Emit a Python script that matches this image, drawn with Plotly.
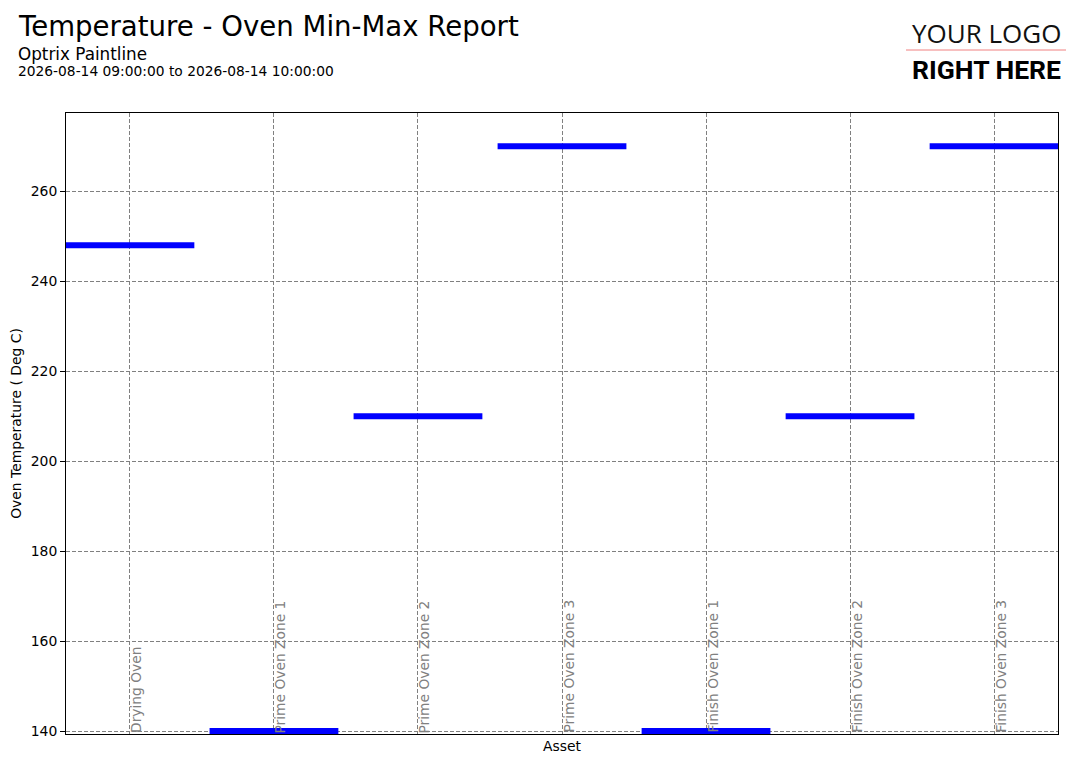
import plotly.graph_objects as go

# Oven min/max temperatures (Deg C) for the reporting window
assets = ["Drying Oven", "Prime Oven Zone 1", "Prime Oven Zone 2", "Prime Oven Zone 3",
          "Finish Oven Zone 1", "Finish Oven Zone 2", "Finish Oven Zone 3"]
min_temp = [248, 140, 210, 270, 140, 210, 270]
max_temp = [248, 140, 210, 270, 140, 210, 270]
y_ticks = [140, 160, 180, 200, 220, 240, 260]

FONT = "DejaVu Sans"
GRID = "#808080"

# page has an 8px body margin, so the figure is 16px smaller than the window
W, H = 1066, 748
ML, MR, MT, MB = 58, 16, 105, 22
plot_w = W - ML - MR
plot_h = H - MT - MB

def px_x(v):
    # page pixel -> paper coords
    return (v - 8 - ML) / plot_w

def px_y(v):
    return (H - (v - 8) - MB) / plot_h

fig = go.Figure()

# min-max markers: flat horizontal bars (min == max here)
fig.add_trace(go.Scatter(
    x=assets, y=max_temp, mode="markers",
    marker=dict(symbol="line-ew", size=92, line=dict(color="#0000ff", width=6)),
    customdata=min_temp,
    hovertemplate="%{x}<br>Min: %{customdata}<br>Max: %{y}<extra></extra>",
    showlegend=False, cliponaxis=True,
))

# asset names written vertically inside the plot
for a in assets:
    fig.add_annotation(x=a, y=0, xref="x", yref="paper", text=a, showarrow=False,
                       textangle=-90, xanchor="left", yanchor="bottom", borderpad=0, xshift=-3,
                       font=dict(family=FONT, size=13.8, color="#808080"))

# headings
fig.add_annotation(x=px_x(16), y=px_y(26), xref="paper", yref="paper", text="Temperature - Oven Min-Max Report",
                   showarrow=False, xanchor="left", yanchor="middle", font=dict(family=FONT, size=27.6, color="black"))
fig.add_annotation(x=px_x(16), y=px_y(54), xref="paper", yref="paper", text="Optrix Paintline",
                   showarrow=False, xanchor="left", yanchor="middle", font=dict(family=FONT, size=16.8, color="black"))
fig.add_annotation(x=px_x(16), y=px_y(71), xref="paper", yref="paper", text="2026-08-14 09:00:00 to 2026-08-14 10:00:00",
                   showarrow=False, xanchor="left", yanchor="middle", font=dict(family=FONT, size=13.8, color="black"))

# logo
fig.add_annotation(x=px_x(986), y=px_y(33), xref="paper", yref="paper", text="YOUR LOGO", showarrow=False,
                   xanchor="center", yanchor="middle", font=dict(family="Open Sans", size=26, color="#111111"))
fig.add_annotation(x=px_x(986), y=px_y(70), xref="paper", yref="paper", text="<b>RIGHT HERE</b>", showarrow=False,
                   xanchor="center", yanchor="middle", font=dict(family="Roboto", size=26.5, color="black"))
fig.add_shape(type="line", xref="paper", yref="paper", x0=px_x(906), x1=px_x(1066), y0=px_y(50), y1=px_y(50),
              line=dict(color="#f08080", width=1))

fig.update_layout(
    width=W, height=H,
    margin=dict(l=ML, r=MR, t=MT, b=MB),
    paper_bgcolor="white", plot_bgcolor="white",
    font=dict(family=FONT, size=13.9, color="black"),
    showlegend=False,
)

fig.update_xaxes(
    type="category", range=[-0.444, 6.444], showticklabels=False, ticks="", automargin=False,
    showgrid=True, gridcolor=GRID, griddash="4px,2px", gridwidth=1,
    showline=True, linecolor="black", linewidth=1, mirror=True,
    title=dict(text="Asset", font=dict(size=13.9), standoff=7),
)
fig.update_yaxes(
    range=[139.35, 277.4], tickvals=y_ticks, ticks="outside", ticklen=5, tickcolor="black",
    automargin=False,
    showgrid=True, gridcolor=GRID, griddash="4px,2px", gridwidth=1, zeroline=False,
    showline=True, linecolor="black", linewidth=1, mirror=True,
    title=dict(text="Oven Temperature ( Deg C)", font=dict(size=13.9), standoff=8),
    tickfont=dict(size=13.9),
)

fig.write_html("out.html")
